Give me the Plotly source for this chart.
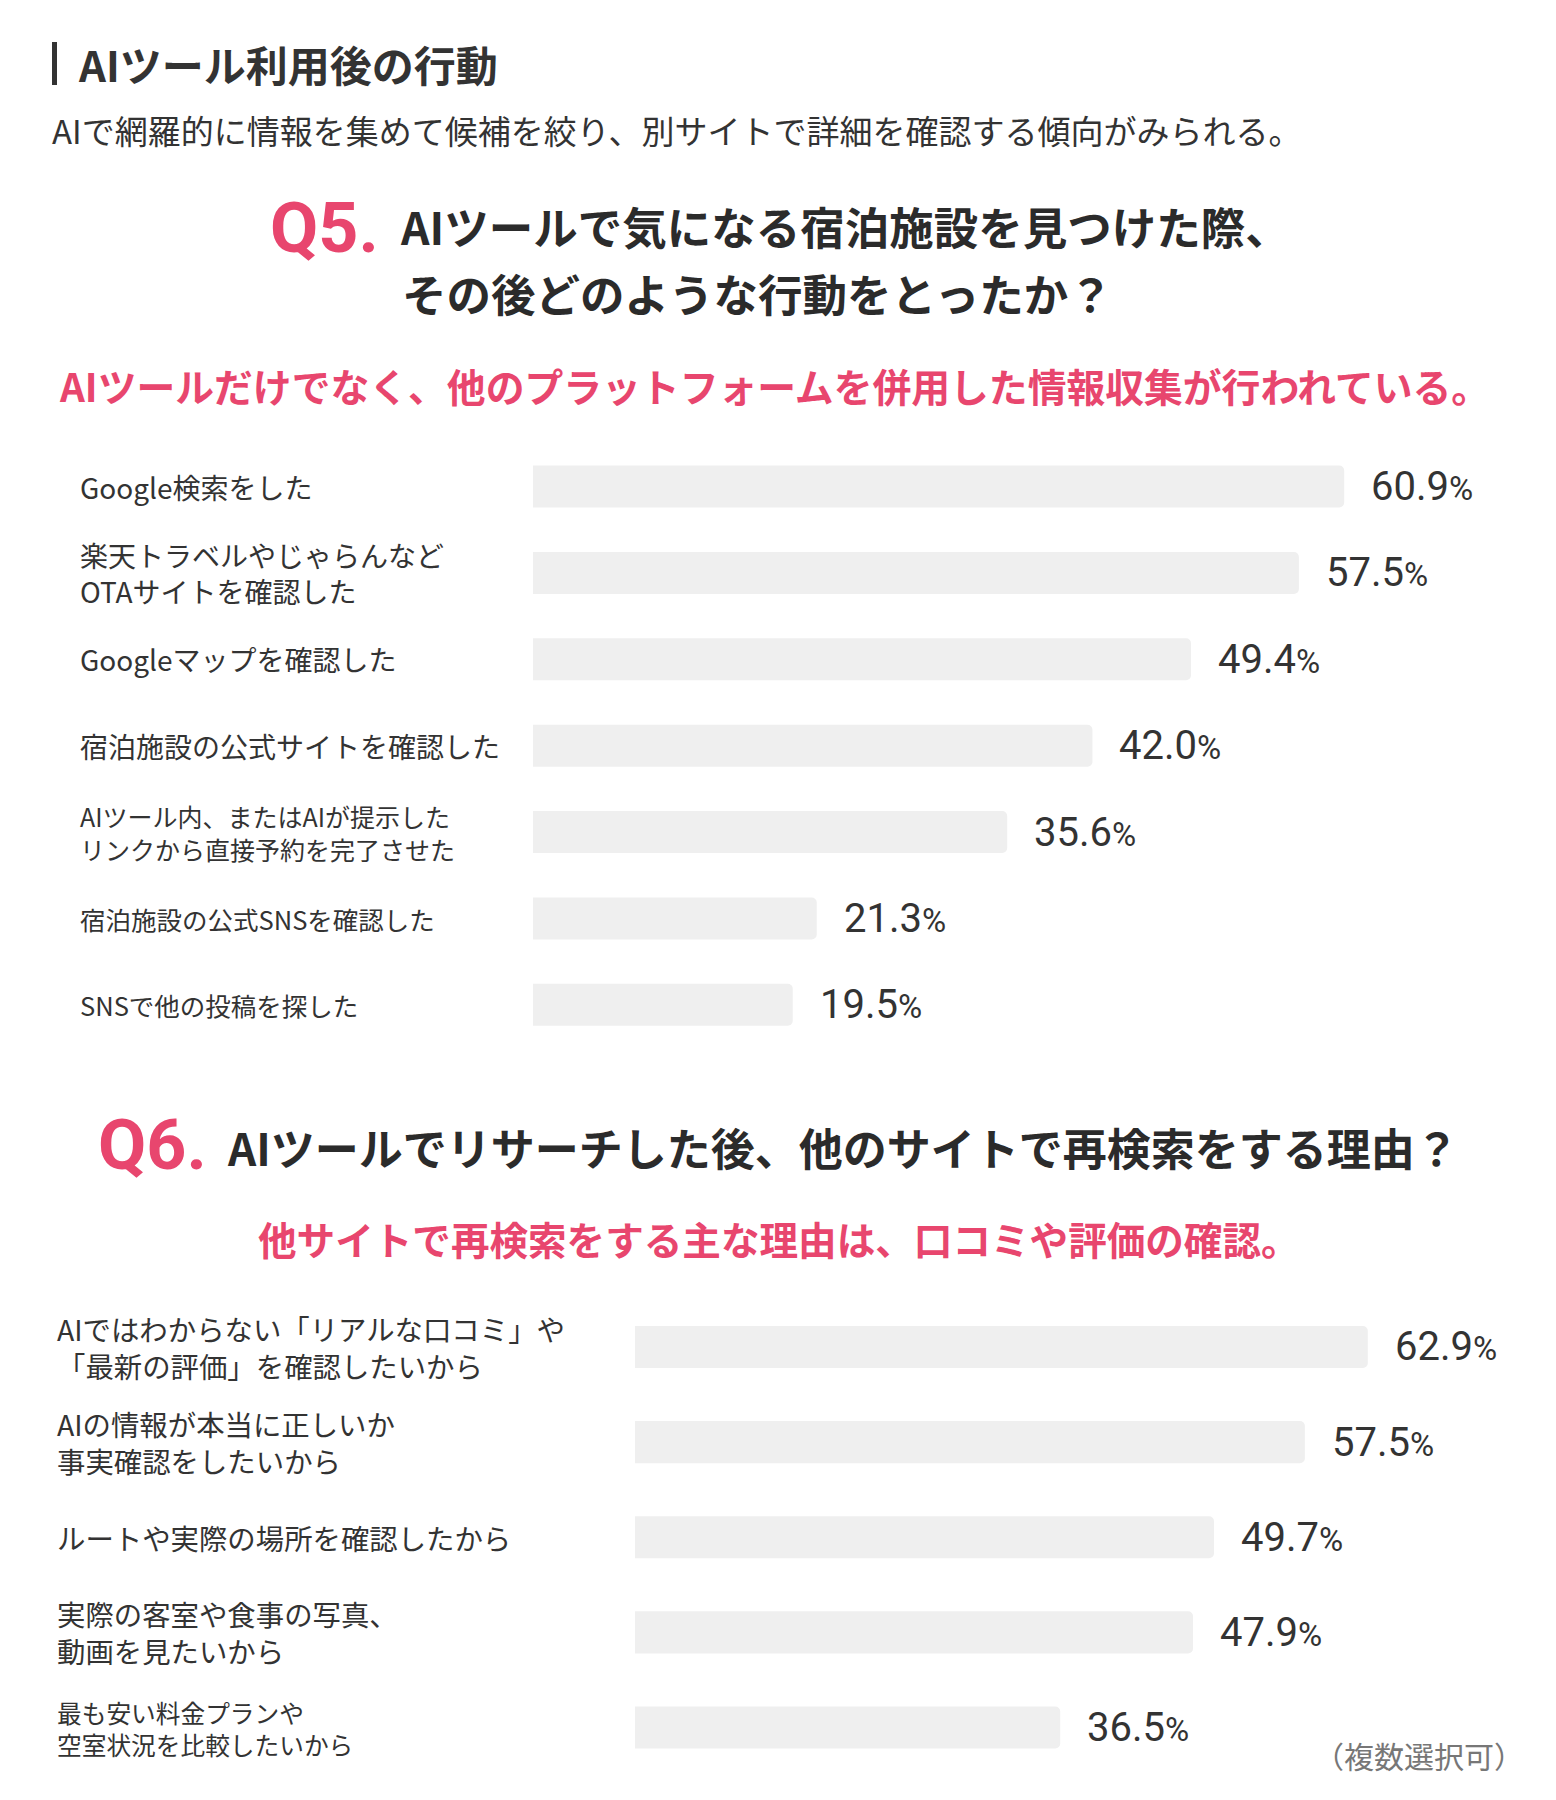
import plotly.graph_objects as go

# Page (window) is 1556x1800; the browser body has an 8px margin, so the
# figure is drawn 8px in from the top-left and sized to fit inside.
PAGE_W, PAGE_H = 1556, 1800
OFF = 8
FW, FH = PAGE_W - 2 * OFF, PAGE_H - 2 * OFF

# ---------------- data ----------------
q5_categories = [
    "Google検索をした",
    "楽天トラベルやじゃらんなど<br>OTAサイトを確認した",
    "Googleマップを確認した",
    "宿泊施設の公式サイトを確認した",
    "AIツール内、またはAIが提示した<br>リンクから直接予約を完了させた",
    "宿泊施設の公式SNSを確認した",
    "SNSで他の投稿を探した",
]
q5_values = [60.9, 57.5, 49.4, 42.0, 35.6, 21.3, 19.5]

q6_categories = [
    "AIではわからない「リアルな口コミ」や<br>「最新の評価」を確認したいから",
    "AIの情報が本当に正しいか<br>事実確認をしたいから",
    "ルートや実際の場所を確認したから",
    "実際の客室や食事の写真、<br>動画を見たいから",
    "最も安い料金プランや<br>空室状況を比較したいから",
]
q6_values = [62.9, 57.5, 49.7, 47.9, 36.5]

header_title = "AIツール利用後の行動"
header_sub = "AIで網羅的に情報を集めて候補を絞り、別サイトで詳細を確認する傾向がみられる。"
q5_no = "Q5."
q5_title = ["AIツールで気になる宿泊施設を見つけた際、", "その後どのような行動をとったか？"]
q5_lead = "AIツールだけでなく、他のプラットフォームを併用した情報収集が行われている。"
q6_no = "Q6."
q6_title = "AIツールでリサーチした後、他のサイトで再検索をする理由？"
q6_lead = "他サイトで再検索をする主な理由は、口コミや評価の確認。"
footnote = "（複数選択可）"

# ---------------- style ----------------
PINK = "#e8466e"
DARK = "#333333"
BAR = "#efefef"
JP = "Noto Sans CJK JP"
NUM = "Roboto"
q5_label_sizes = [28, 28, 28, 28, 25, 25.5, 25.5]
q6_label_sizes = [28.4, 28.4, 28.4, 28.4, 24.7]


def fx(p):
    return (p - OFF) / FW


def fy(p):
    return 1 - (p - OFF) / FH


fig = go.Figure()

fig.add_trace(go.Bar(
    x=q5_values, y=q5_categories, orientation="h",
    xaxis="x", yaxis="y", width=0.486,
    marker=dict(color=BAR, cornerradius=5, line=dict(width=0)),
    hoverinfo="skip",
))
fig.add_trace(go.Bar(
    x=q6_values, y=q6_categories, orientation="h",
    xaxis="x2", yaxis="y2", width=0.442,
    marker=dict(color=BAR, cornerradius=5, line=dict(width=0)),
    hoverinfo="skip",
))

ann = []


def value_text(v):
    return f"{v:.1f}<span style='font-size:33px'>%</span>"


for cat, v, fs in zip(q5_categories, q5_values, q5_label_sizes):
    ann.append(dict(x=fx(78), xref="paper", y=cat, yref="y", text=cat,
                    xanchor="left", yanchor="middle", align="left", showarrow=False,
                    font=dict(family=JP, size=fs, color=DARK)))
    ann.append(dict(x=v, xref="x", y=cat, yref="y", xshift=25,
                    text=value_text(v),
                    xanchor="left", yanchor="middle", showarrow=False,
                    font=dict(family=NUM, size=40, color=DARK)))
for cat, v, fs in zip(q6_categories, q6_values, q6_label_sizes):
    ann.append(dict(x=fx(55), xref="paper", y=cat, yref="y2", text=cat,
                    xanchor="left", yanchor="middle", align="left", showarrow=False,
                    font=dict(family=JP, size=fs, color=DARK)))
    ann.append(dict(x=v, xref="x2", y=cat, yref="y2", xshift=25,
                    text=value_text(v),
                    xanchor="left", yanchor="middle", showarrow=False,
                    font=dict(family=NUM, size=40, color=DARK)))


def txt(text, x, y, size, color=DARK, anchor="left", bold=False, family=JP):
    ann.append(dict(x=fx(x), y=fy(y), xref="paper", yref="paper",
                    text=f"<b>{text}</b>" if bold else text,
                    xanchor=anchor, yanchor="middle", showarrow=False,
                    font=dict(family=family, size=size, color=color)))


txt(header_title, 76, 64, 42, bold=True)
txt(header_sub, 50, 130, 33)
txt(q5_no, 268, 228, 70, color=PINK, bold=True, family=NUM)
txt(q5_title[0], 398, 226, 44.5, color="#2b2b2b", bold=True)
txt(q5_title[1], 400, 292, 44.5, color="#2b2b2b", bold=True)
txt(q5_lead, 774, 385, 38.8, color=PINK, anchor="center", bold=True)
txt(q6_no, 96, 1145, 70, color=PINK, bold=True, family=NUM)
txt(q6_title, 225, 1147, 44, color="#2b2b2b", bold=True)
txt(q6_lead, 779, 1238, 38.6, color=PINK, anchor="center", bold=True)
txt(footnote, 1526, 1755, 30, color="#777777", anchor="right")

shapes = [dict(type="rect", xref="paper", yref="paper",
               x0=fx(52), x1=fx(57), y0=fy(85), y1=fy(42),
               fillcolor=DARK, line=dict(width=0))]

q5_bar_start, q5_px_per_unit = 533, 13.32
q6_bar_start, q6_px_per_unit = 635, 11.65

fig.update_layout(
    width=FW, height=FH,
    margin=dict(l=0, r=0, t=0, b=0),
    paper_bgcolor="white", plot_bgcolor="white",
    showlegend=False,
    xaxis=dict(domain=[fx(q5_bar_start), 1],
               range=[0, (FW - (q5_bar_start - OFF)) / q5_px_per_unit],
               visible=False, fixedrange=True),
    yaxis=dict(domain=[fy(1048), fy(443.4)], type="category",
               categoryorder="array", categoryarray=q5_categories,
               range=[len(q5_categories) - 0.5, -0.5], visible=False, fixedrange=True),
    xaxis2=dict(domain=[fx(q6_bar_start), 1],
                range=[0, (FW - (q6_bar_start - OFF)) / q6_px_per_unit],
                visible=False, fixedrange=True, anchor="y2"),
    yaxis2=dict(domain=[fy(1775.1), fy(1299.4)], type="category",
                categoryorder="array", categoryarray=q6_categories,
                range=[len(q6_categories) - 0.5, -0.5], visible=False,
                fixedrange=True, anchor="x2"),
    annotations=ann,
    shapes=shapes,
)

fig.write_html("out.html")
